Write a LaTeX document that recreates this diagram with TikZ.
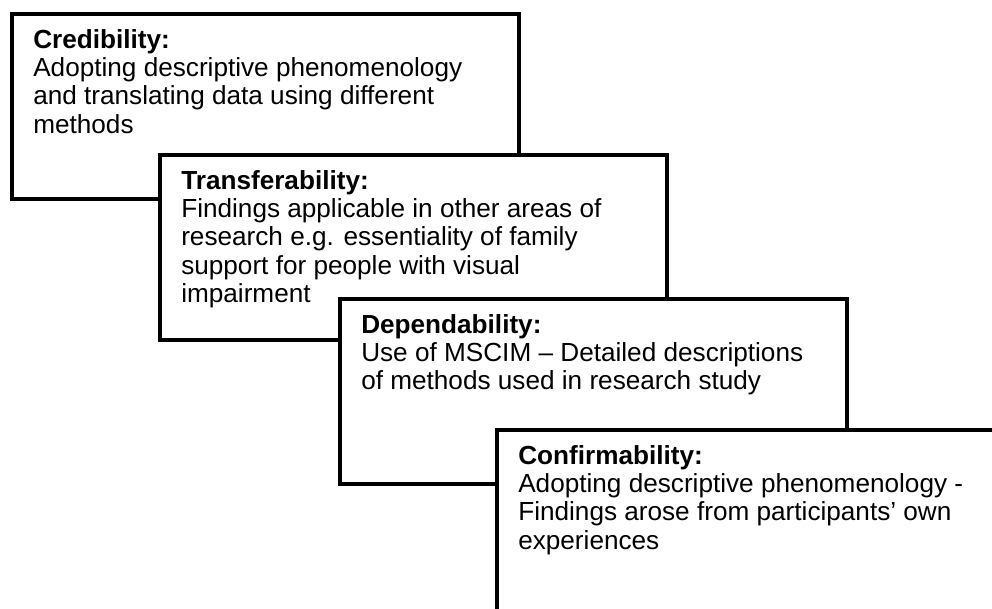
\documentclass[tikz,border=0pt]{standalone}
\usepackage{fontspec}
\setmainfont{Liberation Sans}
\usetikzlibrary{positioning, calc}

\begin{document}
\begin{tikzpicture}[
  x=0.025cm, y=-0.025cm,
  stage/.style={rectangle, draw, line width=2.5pt, fill=white, anchor=north west,
                minimum width=12.675cm, minimum height=4.625cm, inner sep=0pt},
  boxtext/.style={anchor=north west, inner sep=0pt, align=left,
                  font=\fontsize{18.6}{20.1}\selectfont}
]
  \clip (0,0) rectangle (992,608);

  % Staircase of boxes, each one drawn over the previous
  \node[stage] (cred) at (10,12) {};
  \node[boxtext] (credtxt) at ($(cred.north west)+(23,17)$)
    {\textbf{Credibility:}\\
     Adopting descriptive phenomenology\\
     and translating data using different\\
     methods};

  \node[stage] (trans) at (158,153) {};
  \node[boxtext] (transtxt) at ($(trans.north west)+(23,17)$)
    {\textbf{Transferability:}\\
     Findings applicable in other areas of\\
     research e.g. essentiality of family\\
     support for people with visual\\
     impairment};

  \node[stage] (dep) at (338,297) {};
  \node[boxtext] (deptxt) at ($(dep.north west)+(23,17)$)
    {\textbf{Dependability:}\\
     Use of MSCIM – Detailed descriptions\\
     of methods used in research study};

  \node[stage] (conf) at (495,428) {};
  \node[boxtext] (conftxt) at ($(conf.north west)+(23,17)$)
    {\textbf{Confirmability:}\\
     Adopting descriptive phenomenology -\\
     Findings arose from participants’ own\\
     experiences};
\end{tikzpicture}
\end{document}
